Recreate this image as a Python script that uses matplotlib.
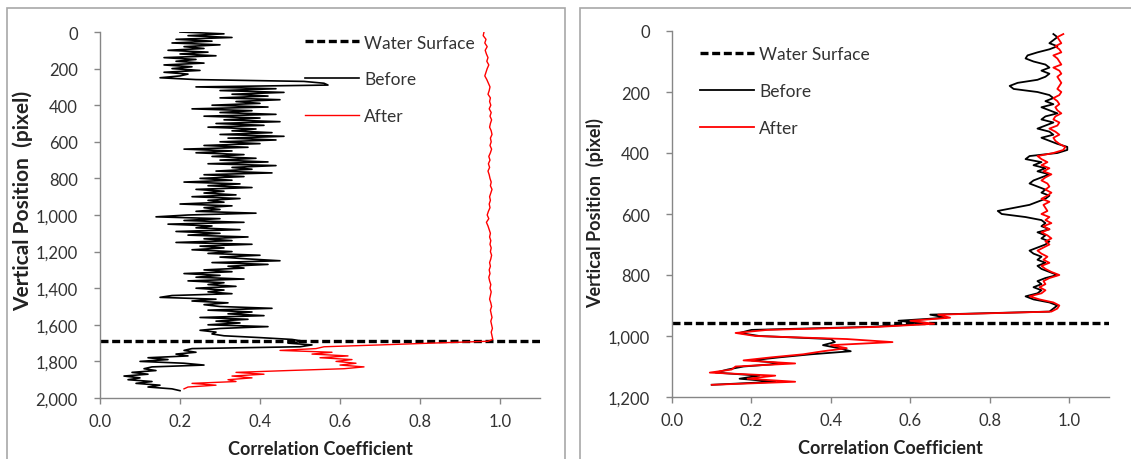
import numpy as np
import matplotlib.pyplot as plt
from matplotlib.patches import Rectangle

plt.rcParams['font.family'] = ['Lato', 'DejaVu Sans']

# ---- left panel data (vertical position in pixel, correlation coefficient) ----
left_before_y = np.arange(0, 1970, 10)
left_before = [
    0.20, 0.31, 0.22, 0.33, 0.19, 0.28, 0.18, 0.30, 0.21, 0.26,
    0.17, 0.27, 0.20, 0.29, 0.16, 0.24, 0.19, 0.26, 0.16, 0.23,
    0.18, 0.25, 0.16, 0.22, 0.20, 0.15, 0.24, 0.51, 0.56, 0.57,
    0.24, 0.44, 0.30, 0.46, 0.33, 0.42, 0.30, 0.45, 0.34, 0.40,
    0.28, 0.42, 0.23, 0.38, 0.30, 0.44, 0.26, 0.40, 0.31, 0.45,
    0.29, 0.41, 0.27, 0.39, 0.33, 0.43, 0.30, 0.46, 0.32, 0.44,
    0.30, 0.40, 0.26, 0.37, 0.21, 0.33, 0.24, 0.36, 0.28, 0.39,
    0.30, 0.42, 0.27, 0.44, 0.33, 0.38, 0.29, 0.43, 0.26, 0.36,
    0.25, 0.33, 0.21, 0.35, 0.27, 0.38, 0.24, 0.31, 0.26, 0.34,
    0.23, 0.35, 0.27, 0.31, 0.20, 0.33, 0.26, 0.30, 0.24, 0.39,
    0.22, 0.14, 0.30, 0.21, 0.36, 0.17, 0.28, 0.24, 0.35, 0.19,
    0.30, 0.22, 0.37, 0.26, 0.33, 0.19, 0.38, 0.25, 0.31, 0.23,
    0.33, 0.27, 0.40, 0.30, 0.37, 0.45, 0.28, 0.42, 0.32, 0.36,
    0.26, 0.33, 0.21, 0.30, 0.24, 0.36, 0.22, 0.31, 0.27, 0.34,
    0.24, 0.31, 0.27, 0.33, 0.18, 0.15, 0.29, 0.23, 0.32, 0.26,
    0.30, 0.43, 0.27, 0.38, 0.32, 0.41, 0.25, 0.37, 0.29, 0.35,
    0.27, 0.42, 0.30, 0.25, 0.29, 0.28, 0.31, 0.40, 0.48, 0.51,
    0.47, 0.53, 0.50, 0.23, 0.21, 0.24, 0.19, 0.22, 0.12, 0.17,
    0.10, 0.21, 0.26, 0.13, 0.11, 0.14, 0.08, 0.12, 0.06, 0.10,
    0.07, 0.13, 0.09, 0.15, 0.12, 0.18, 0.20,
]

left_after_y = np.concatenate([np.arange(0, 1690, 20), np.arange(1690, 1960, 10)])
left_after = [
    0.960, 0.958, 0.965, 0.962, 0.968, 0.963, 0.966, 0.970, 0.967, 0.972,
    0.968, 0.965, 0.962, 0.967, 0.971, 0.975, 0.973, 0.970, 0.976, 0.974,
    0.977, 0.973, 0.978, 0.975, 0.979, 0.976, 0.974, 0.978, 0.980, 0.976,
    0.978, 0.975, 0.979, 0.976, 0.972, 0.975, 0.971, 0.974, 0.970, 0.973,
    0.975, 0.978, 0.976, 0.980, 0.977, 0.974, 0.976, 0.973, 0.975, 0.971,
    0.968, 0.972, 0.966, 0.970, 0.973, 0.976, 0.974, 0.977, 0.975, 0.978,
    0.976, 0.979, 0.977, 0.974, 0.976, 0.973, 0.975, 0.972, 0.974, 0.977,
    0.975, 0.978, 0.976, 0.974, 0.977, 0.979, 0.976, 0.978, 0.980, 0.977,
    0.979, 0.981, 0.978, 0.980, 0.982,
    0.97, 0.83, 0.70, 0.56, 0.54, 0.45, 0.58, 0.53, 0.62, 0.55,
    0.63, 0.59, 0.64, 0.60, 0.66, 0.61, 0.47, 0.34, 0.41, 0.33,
    0.38, 0.32, 0.34, 0.23, 0.29, 0.22, 0.21,
]
left_surface = 1690

# ---- right panel data ----
right_y = np.arange(10, 1170, 10)
right_before = [
    0.96, 0.97, 0.96, 0.95, 0.97, 0.95, 0.92, 0.895, 0.89, 0.91,
    0.94, 0.95, 0.93, 0.95, 0.94, 0.92, 0.87, 0.85, 0.86, 0.92,
    0.95, 0.96, 0.94, 0.96, 0.93, 0.95, 0.97, 0.94, 0.93, 0.96,
    0.94, 0.92, 0.95, 0.96, 0.93, 0.95, 0.97, 0.995, 0.995, 0.97,
    0.90, 0.89, 0.93, 0.91, 0.94, 0.92, 0.95, 0.93, 0.91, 0.90,
    0.92, 0.94, 0.93, 0.95, 0.94, 0.92, 0.90, 0.86, 0.82, 0.83,
    0.89, 0.93, 0.94, 0.93, 0.95, 0.92, 0.94, 0.93, 0.95, 0.94,
    0.92, 0.90, 0.91, 0.93, 0.92, 0.94, 0.92, 0.93, 0.95, 0.97,
    0.94, 0.92, 0.93, 0.91, 0.93, 0.92, 0.89, 0.91, 0.95, 0.97,
    0.96, 0.95, 0.65, 0.69, 0.57, 0.64, 0.50, 0.20, 0.17, 0.22,
    0.40, 0.41, 0.38, 0.42, 0.45, 0.35, 0.27, 0.20, 0.28, 0.18,
    0.14, 0.11, 0.22, 0.17, 0.26, 0.10,
]
right_after = [
    0.985, 0.97, 0.975, 0.98, 0.965, 0.975, 0.98, 0.96, 0.97, 0.975,
    0.98, 0.96, 0.975, 0.98, 0.97, 0.975, 0.98, 0.975, 0.97, 0.98,
    0.975, 0.96, 0.97, 0.975, 0.965, 0.97, 0.98, 0.965, 0.96, 0.975,
    0.97, 0.95, 0.965, 0.975, 0.96, 0.965, 0.975, 0.99, 0.985, 0.96,
    0.92, 0.93, 0.945, 0.93, 0.95, 0.935, 0.955, 0.94, 0.93, 0.945,
    0.95, 0.94, 0.955, 0.945, 0.93, 0.95, 0.935, 0.94, 0.945, 0.93,
    0.95, 0.94, 0.955, 0.935, 0.95, 0.93, 0.945, 0.955, 0.94, 0.95,
    0.935, 0.92, 0.93, 0.945, 0.935, 0.95, 0.93, 0.94, 0.955, 0.975,
    0.95, 0.935, 0.94, 0.925, 0.94, 0.93, 0.90, 0.925, 0.96, 0.975,
    0.97, 0.955, 0.67, 0.70, 0.60, 0.66, 0.52, 0.24, 0.16, 0.21,
    0.44, 0.555, 0.40, 0.44, 0.38, 0.33, 0.25, 0.18, 0.31, 0.16,
    0.15, 0.095, 0.26, 0.19, 0.31, 0.10,
]
right_surface = 957

W, H = 1131, 460
fig = plt.figure(figsize=(W / 100, H / 100), dpi=100)

# panel frames
for x0, x1 in [(7, 565), (580, 1140)]:
    fig.patches.append(Rectangle((x0 / W, -0.05), (x1 - x0) / W, (H - 9) / H + 0.05,
                                 transform=fig.transFigure, fill=False,
                                 edgecolor='#a8a8a8', linewidth=1.2))

ax1 = fig.add_axes([100 / W, 61 / H, 440 / W, 366 / H])
ax2 = fig.add_axes([672 / W, 62 / H, 437 / W, 366 / H])


def style(ax, ymax, ystep, ylab_size, ylab_pos):
    ax.set_xlim(0, 1.1)
    ax.set_ylim(ymax, 0)
    ax.set_xticks(np.arange(0, 1.01, 0.2))
    ax.set_xticklabels([f'{v:.1f}' for v in np.arange(0, 1.01, 0.2)])
    yt = np.arange(0, ymax + 1, ystep)
    ax.set_yticks(yt)
    ax.set_yticklabels([f'{v:,}' for v in yt])
    for s in ['top', 'right']:
        ax.spines[s].set_visible(False)
    for s in ['left', 'bottom']:
        ax.spines[s].set_color('#868686')
        ax.spines[s].set_linewidth(1.0)
    ax.tick_params(axis='both', colors='#868686', labelcolor='#333333',
                   labelsize=12, length=4, width=1.0, direction='out')
    ax.tick_params(axis='y', pad=12)
    ax.tick_params(axis='x', pad=7)
    ax.set_xlabel('Correlation Coefficient', fontsize=13, fontweight='bold',
                  va='center', color='#222222')
    ax.set_ylabel('Vertical Position  (pixel)', fontsize=ylab_size, fontweight='bold',
                  va='center', color='#222222')
    ax.xaxis.set_label_coords(0.5, -0.137)
    ax.yaxis.set_label_coords(-0.175, ylab_pos)


style(ax1, 2000, 200, 15, 0.54)
style(ax2, 1200, 200, 13, 0.505)

dash = (0, (2.4, 1.1))

ws1 = ax1.axhline(left_surface, color='black', lw=2.4, ls=dash, label='Water Surface')
b1, = ax1.plot(left_before, left_before_y, color='black', lw=1.2, label='Before')
a1, = ax1.plot(left_after, left_after_y, color='#ff0000', lw=1.0, label='After')

ws2 = ax2.axhline(right_surface, color='black', lw=2.4, ls=dash, label='Water Surface')
b2, = ax2.plot(right_before, right_y, color='black', lw=1.3, label='Before')
a2, = ax2.plot(right_after, right_y, color='#ff0000', lw=1.3, label='After')

for ax, hs, anchor in [(ax1, [ws1, b1, a1], (0.466, 0.993)),
                       (ax2, [ws2, b2, a2], (0.064, 0.958))]:
    leg = ax.legend(handles=hs, loc='upper left', bbox_to_anchor=anchor,
                    frameon=False, fontsize=12.5, handlelength=3.1,
                    handletextpad=0.3, labelspacing=1.2, borderpad=0,
                    borderaxespad=0)
    for t in leg.get_texts():
        t.set_color('#333333')

fig.savefig('out.png', dpi=100)
